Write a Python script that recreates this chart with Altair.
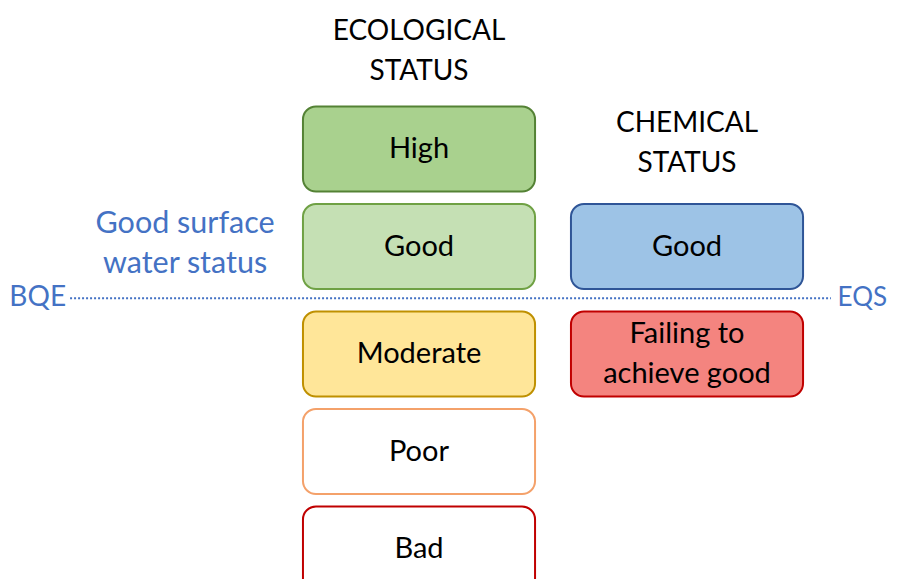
import altair as alt
import pandas as pd

# ---- data ----
columns = ["ECOLOGICAL\nSTATUS", "CHEMICAL\nSTATUS"]
eco_labels = ["High", "Good", "Moderate", "Poor", "Bad"]
eco_levels = [0, 1, 2, 3, 4]
chem_labels = ["Good", "Failing to\nachieve good"]
chem_levels = [1, 2]
good_threshold = 1.5          # boundary between Good and Moderate
left_label = "Good surface\nwater status"
left_marker = "BQE"
right_marker = "EQS"

# ---- styles ----
eco_fill = ["#A9D18E", "#C5E0B4", "#FFE699", "#FFFFFF", "#FFFFFF"]
eco_stroke = ["#548235", "#6FA144", "#BF9000", "#F4A16A", "#C00000"]
chem_fill = ["#9DC3E6", "#F4847F"]
chem_stroke = ["#2F5597", "#C00000"]
BLUE = "#4472C4"
FONT = "Lato"
GAP = 0.1026   # extra spacing below the threshold line
HALF_W = 0.433
HALF_H = 0.436
LINE_STEP = 40 / 97.5  # line spacing in level units

def pos(level):
    return level + (GAP if level > good_threshold else 0)

def split_lines(x, u, label):
    parts = label.split("\n")
    n = len(parts)
    return [dict(x=x, u=u + (i - (n - 1) / 2) * LINE_STEP, text=p)
            for i, p in enumerate(parts)]

rows = []
for i, (lab, lv) in enumerate(zip(eco_labels, eco_levels)):
    rows.append(dict(col=0, label=lab, u=pos(lv), fill=eco_fill[i], stroke=eco_stroke[i]))
for i, (lab, lv) in enumerate(zip(chem_labels, chem_levels)):
    rows.append(dict(col=1, label=lab, u=pos(lv), fill=chem_fill[i], stroke=chem_stroke[i]))
boxes = pd.DataFrame(rows)
boxes["x1"] = boxes["col"] - HALF_W
boxes["x2"] = boxes["col"] + HALF_W
boxes["y1"] = boxes["u"] - HALF_H
boxes["y2"] = boxes["u"] + HALF_H

box_text = []
for r in rows:
    box_text += split_lines(r["col"], r["u"], r["label"])
box_text = pd.DataFrame(box_text)

first_levels = [min(eco_levels), min(chem_levels)]
head_text = []
head_text += split_lines(0, first_levels[0] - 1.0, columns[0])
head_text += split_lines(1, first_levels[1] - 1.056, columns[1])
head_text = pd.DataFrame(head_text)

line_u = (pos(1) + pos(2)) / 2 - 0.02
line_df = pd.DataFrame(dict(x1=[-1.302], x2=[1.537], u=[line_u]))
left_mk = pd.DataFrame(dict(x=[-1.317], u=[line_u], label=[left_marker]))
right_mk = pd.DataFrame(dict(x=[1.562], u=[line_u], label=[right_marker]))
left_df = pd.DataFrame(split_lines(-0.873, 0.974, left_label))

xs = alt.Scale(domain=[-1.5336, 1.7649], nice=False, zero=False)
ys = alt.Scale(domain=[-1.4462, 4.4102], nice=False, zero=False, reverse=True)

def bx(f):
    return alt.X(f, type="quantitative", scale=xs, axis=None)

def by(f):
    return alt.Y(f, type="quantitative", scale=ys, axis=None)

rects = alt.Chart(boxes).mark_rect(cornerRadius=13, strokeWidth=2).encode(
    x=bx("x1"), x2="x2", y=by("y1"), y2="y2",
    fill=alt.Fill("fill:N", scale=None), stroke=alt.Stroke("stroke:N", scale=None))

texts = alt.Chart(box_text).mark_text(
    font=FONT, fontSize=29, color="black", baseline="middle").encode(
    x=bx("x"), y=by("u"), text="text:N")

head = alt.Chart(head_text).mark_text(
    font=FONT, fontSize=28, color="black", baseline="middle").encode(
    x=bx("x"), y=by("u"), text="text:N")

rule = alt.Chart(line_df).mark_rule(color=BLUE, strokeWidth=2, strokeDash=[2, 2]).encode(
    x=bx("x1"), x2="x2", y=by("u"))

mk_left = alt.Chart(left_mk).mark_text(
    font=FONT, fontSize=28, color=BLUE, align="right", baseline="middle").encode(
    x=bx("x"), y=by("u"), text="label:N")
mk_right = alt.Chart(right_mk).mark_text(
    font=FONT, fontSize=26, color=BLUE, align="left", baseline="middle").encode(
    x=bx("x"), y=by("u"), text="label:N")

left = alt.Chart(left_df).mark_text(
    font=FONT, fontSize=30.5, color=BLUE, baseline="middle").encode(
    x=bx("x"), y=by("u"), text="text:N")

chart = alt.layer(rects, texts, head, rule, mk_left, mk_right, left).properties(
    width=884, height=571, padding=0, autosize=alt.AutoSizeParams(type="none")
).configure_view(stroke=None)

chart.save("out.html", embed_options={"renderer": "svg", "actions": False})
